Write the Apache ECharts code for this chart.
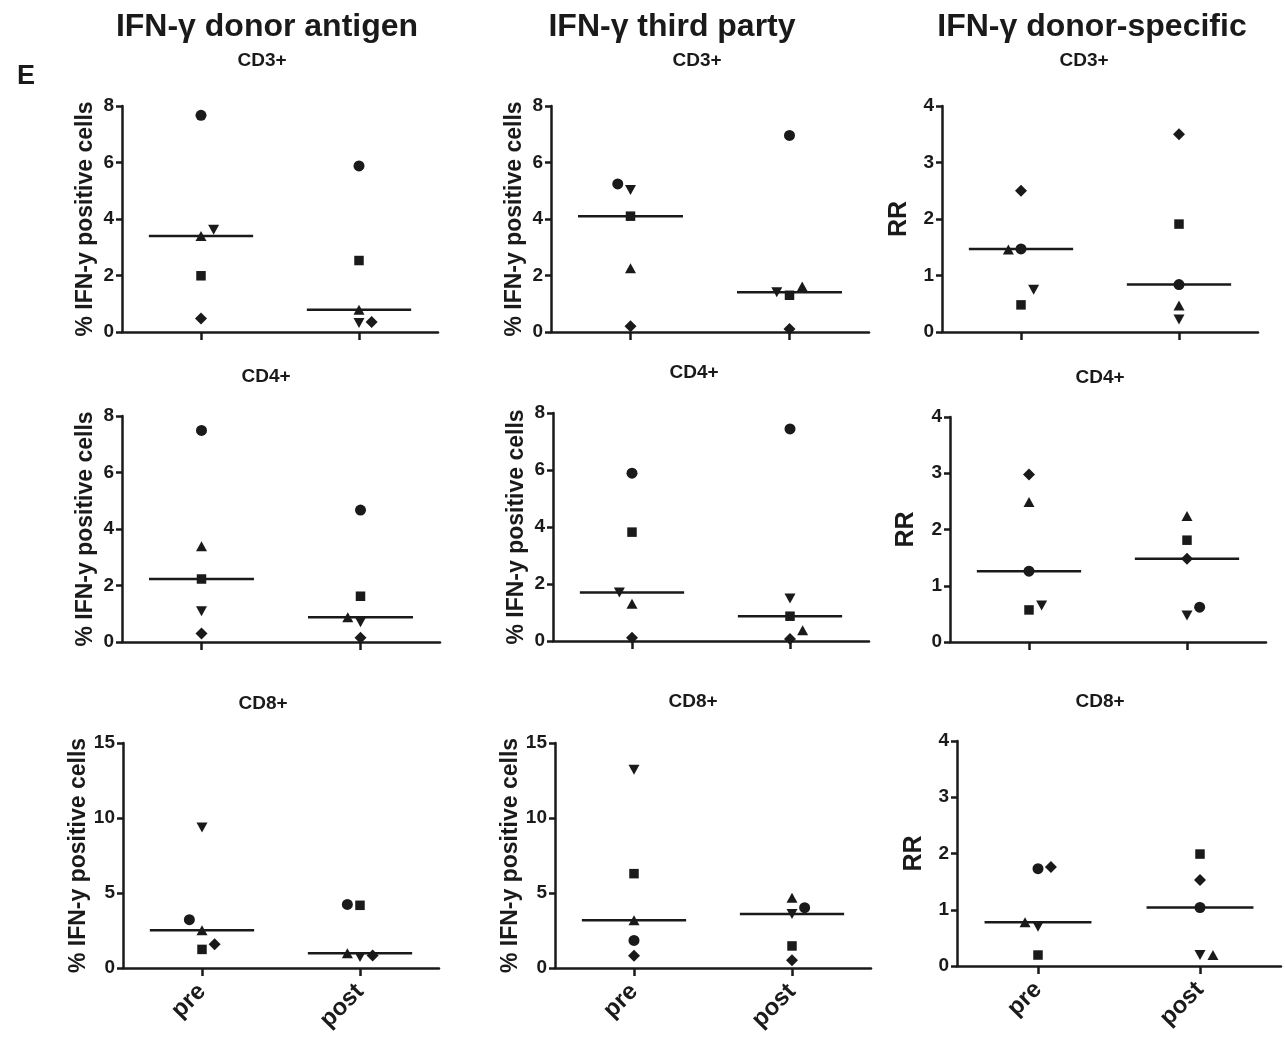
<!DOCTYPE html>
<html>
<head>
<meta charset="utf-8">
<script src="https://cdn.jsdelivr.net/npm/echarts@6/dist/echarts.min.js"></script>
<style>
  html, body { margin: 0; padding: 0; background: #fff; }
  #chart { width: 1285px; height: 1041px; }
</style>
</head>
<body>
<div id="chart"></div>
<script>
// ---------- categories / labels ----------
const categories = ['pre', 'post'];
const columnTitles = ['IFN-γ donor antigen', 'IFN-γ third party', 'IFN-γ donor-specific'];
const rowTitles = ['CD3+', 'CD4+', 'CD8+'];
const yNamePercent = '% IFN-y positive cells';
const yNameRR = 'RR';
// subject order in every array: circle, square, triangle, inverted triangle, diamond

// ---------- CD3+ ----------
const cd3DonorPre   = [7.67, 1.99, 3.40, 3.62, 0.48];
const cd3DonorPost  = [5.88, 2.53, 0.79, 0.32, 0.35];
const cd3DonorMed   = [3.40, 0.79];
const cd3ThirdPre   = [5.24, 4.10, 2.26, 5.03, 0.20];
const cd3ThirdPost  = [6.96, 1.30, 1.61, 1.41, 0.11];
const cd3ThirdMed   = [4.10, 1.41];
const cd3RRPre      = [1.47, 0.48, 1.46, 0.75, 2.50];
const cd3RRPost     = [0.84, 1.91, 0.47, 0.22, 3.50];
const cd3RRMed      = [1.47, 0.84];

// ---------- CD4+ ----------
const cd4DonorPre   = [7.49, 2.23, 3.39, 1.09, 0.30];
const cd4DonorPost  = [4.67, 1.62, 0.88, 0.70, 0.15];
const cd4DonorMed   = [2.23, 0.88];
const cd4ThirdPre   = [5.89, 3.82, 1.31, 1.70, 0.11];
const cd4ThirdPost  = [7.44, 0.87, 0.38, 1.49, 0.07];
const cd4ThirdMed   = [1.70, 0.87];
const cd4RRPre      = [1.26, 0.57, 2.49, 0.65, 2.98];
const cd4RRPost     = [0.62, 1.81, 2.24, 0.47, 1.48];
const cd4RRMed      = [1.26, 1.48];

// ---------- CD8+ ----------
const cd8DonorPre   = [3.22, 1.24, 2.51, 9.36, 1.58];
const cd8DonorPost  = [4.24, 4.18, 0.98, 0.73, 0.84];
const cd8DonorMed   = [2.51, 0.98];
const cd8ThirdPre   = [1.84, 6.29, 3.18, 13.22, 0.82];
const cd8ThirdPost  = [4.02, 1.47, 4.69, 3.60, 0.51];
const cd8ThirdMed   = [3.18, 3.60];
const cd8RRPre      = [1.73, 0.195, 0.78, 0.70, 1.76];
const cd8RRPost     = [1.04, 1.99, 0.195, 0.195, 1.53];
const cd8RRMed      = [0.78, 1.04];

// horizontal dodge of overlapping points (in category units)
const cd3DonorPreDodge  = [0, 0, 0, 0.08, 0];
const cd3DonorPostDodge = [0, 0, 0, 0, 0.08];
const cd3ThirdPreDodge  = [-0.08, 0, 0, 0, 0];
const cd3ThirdPostDodge = [0, 0, 0.08, -0.08, 0];
const cd3RRPreDodge     = [0, 0, -0.08, 0.08, 0];
const cd3RRPostDodge    = [0, 0, 0, 0, 0];
const cd4DonorPreDodge  = [0, 0, 0, 0, 0];
const cd4DonorPostDodge = [0, 0, -0.08, 0, 0];
const cd4ThirdPreDodge  = [0, 0, 0, -0.08, 0];
const cd4ThirdPostDodge = [0, 0, 0.08, 0, 0];
const cd4RRPreDodge     = [0, 0, 0, 0.08, 0];
const cd4RRPostDodge    = [0.08, 0, 0, 0, 0];
const cd8DonorPreDodge  = [-0.08, 0, 0, 0, 0.08];
const cd8DonorPostDodge = [-0.08, 0, -0.08, 0, 0.08];
const cd8ThirdPreDodge  = [0, 0, 0, 0, 0];
const cd8ThirdPostDodge = [0.08, 0, 0, 0, 0];
const cd8RRPreDodge     = [0, 0, -0.08, 0, 0.08];
const cd8RRPostDodge    = [0, 0, 0.08, 0, 0];

// ---------- build ----------
const FONT = "'Liberation Sans', Arial, Helvetica, sans-serif";
const INK = '#1a1a1a';

const panels = [
  { g: [122, 106, 316, 226], max: 8,  step: 2, name: yNamePercent, gap: 25, labels: false, pre: cd3DonorPre, post: cd3DonorPost, med: cd3DonorMed, dPre: cd3DonorPreDodge, dPost: cd3DonorPostDodge },
  { g: [551, 106, 318, 226], max: 8,  step: 2, name: yNamePercent, gap: 25, labels: false, pre: cd3ThirdPre, post: cd3ThirdPost, med: cd3ThirdMed, dPre: cd3ThirdPreDodge, dPost: cd3ThirdPostDodge },
  { g: [942, 106, 316, 226], max: 4,  step: 1, name: yNameRR,      gap: 30, labels: false, pre: cd3RRPre, post: cd3RRPost, med: cd3RRMed, dPre: cd3RRPreDodge, dPost: cd3RRPostDodge },
  { g: [122, 416, 318, 226], max: 8,  step: 2, name: yNamePercent, gap: 25, labels: false, pre: cd4DonorPre, post: cd4DonorPost, med: cd4DonorMed, dPre: cd4DonorPreDodge, dPost: cd4DonorPostDodge },
  { g: [553, 413, 316, 228], max: 8,  step: 2, name: yNamePercent, gap: 25, labels: false, pre: cd4ThirdPre, post: cd4ThirdPost, med: cd4ThirdMed, dPre: cd4ThirdPreDodge, dPost: cd4ThirdPostDodge },
  { g: [950, 417, 316, 225], max: 4,  step: 1, name: yNameRR,      gap: 31, labels: false, pre: cd4RRPre, post: cd4RRPost, med: cd4RRMed, dPre: cd4RRPreDodge, dPost: cd4RRPostDodge },
  { g: [123, 743, 316, 225], max: 15, step: 5, name: yNamePercent, gap: 27, labels: true,  pre: cd8DonorPre, post: cd8DonorPost, med: cd8DonorMed, dPre: cd8DonorPreDodge, dPost: cd8DonorPostDodge },
  { g: [555, 743, 316, 225], max: 15, step: 5, name: yNamePercent, gap: 27, labels: true,  pre: cd8ThirdPre, post: cd8ThirdPost, med: cd8ThirdMed, dPre: cd8ThirdPreDodge, dPost: cd8ThirdPostDodge },
  { g: [957, 741, 324, 225], max: 4,  step: 1, name: yNameRR,      gap: 30, labels: true,  pre: cd8RRPre, post: cd8RRPost, med: cd8RRMed, dPre: cd8RRPreDodge, dPost: cd8RRPostDodge }
];

const symbols = [
  { symbol: 'circle',   size: 11,      rotate: 0 },
  { symbol: 'rect',     size: 9.5,     rotate: 0 },
  { symbol: 'triangle', size: [11, 10], rotate: 0 },
  { symbol: 'triangle', size: [11, 10], rotate: 180 },
  { symbol: 'diamond',  size: [12, 12], rotate: 0 }
];

const grid = [], xAxis = [], yAxis = [], series = [];
const HALF = 0.33;

panels.forEach((p, i) => {
  grid.push({ left: p.g[0], top: p.g[1], width: p.g[2], height: p.g[3] });
  xAxis.push({
    type: 'category', gridIndex: i, data: categories, boundaryGap: true, position: 'bottom',
    axisLine: { show: true, onZero: false, lineStyle: { color: INK, width: 2.5 } },
    axisTick: { show: true, alignWithLabel: true, length: 8, lineStyle: { color: INK, width: 2.5 } },
    axisLabel: { show: p.labels, rotate: 45, margin: 20, color: INK, fontFamily: FONT, fontWeight: 'bold', fontSize: 24 },
    splitLine: { show: false }
  });
  xAxis.push({ type: 'value', gridIndex: i, min: -0.5, max: 1.5, show: false, axisLine: { onZero: false } });
  yAxis.push({
    type: 'value', gridIndex: i, min: 0, max: p.max, interval: p.step, position: 'left',
    name: p.name, nameLocation: 'middle', nameGap: p.gap,
    nameTextStyle: { color: INK, fontFamily: FONT, fontWeight: 'bold', fontSize: p.name === yNameRR ? 25 : 23 },
    axisLine: { show: true, onZero: false, lineStyle: { color: INK, width: 2.5 } },
    axisTick: { show: true, length: 6, lineStyle: { color: INK, width: 2.5 } },
    axisLabel: { color: INK, fontFamily: FONT, fontWeight: 'bold', fontSize: 19, margin: 8 },
    splitLine: { show: false }
  });
  symbols.forEach((s, k) => {
    series.push({
      type: 'scatter', xAxisIndex: 2 * i + 1, yAxisIndex: i,
      symbol: s.symbol, symbolSize: s.size, symbolRotate: s.rotate,
      itemStyle: { color: INK, opacity: 1 },
      silent: true, z: 3,
      data: [[0 + p.dPre[k], p.pre[k]], [1 + p.dPost[k], p.post[k]]]
    });
  });
  series.push({
    type: 'line', xAxisIndex: 2 * i + 1, yAxisIndex: i,
    showSymbol: false, symbol: 'none', silent: true, connectNulls: false, z: 2,
    lineStyle: { color: INK, width: 2.5 },
    data: [[0 - HALF, p.med[0]], [0 + HALF, p.med[0]], '-', [1 - HALF, p.med[1]], [1 + HALF, p.med[1]]]
  });
});

const txt = (x, y, text, size) => ({
  type: 'text', x: x, y: y, silent: true,
  style: { text: text, fill: INK, font: 'bold ' + size + 'px ' + FONT, textAlign: 'center', textVerticalAlign: 'middle' }
});

const graphic = [
  txt(267, 27, columnTitles[0], 32),
  txt(672, 27, columnTitles[1], 32),
  txt(1092, 27, columnTitles[2], 32),
  txt(26, 77, 'E', 27),
  txt(262, 61, rowTitles[0], 19),
  txt(697, 61, rowTitles[0], 19),
  txt(1084, 61, rowTitles[0], 19),
  txt(266, 377, rowTitles[1], 19),
  txt(694, 373, rowTitles[1], 19),
  txt(1100, 378, rowTitles[1], 19),
  txt(263, 704, rowTitles[2], 19),
  txt(693, 702, rowTitles[2], 19),
  txt(1100, 702, rowTitles[2], 19)
];

const chart = echarts.init(document.getElementById('chart'), null, { renderer: 'canvas' });
chart.setOption({
  animation: false,
  backgroundColor: '#ffffff',
  grid: grid, xAxis: xAxis, yAxis: yAxis, series: series, graphic: graphic
});
</script>
</body>
</html>
